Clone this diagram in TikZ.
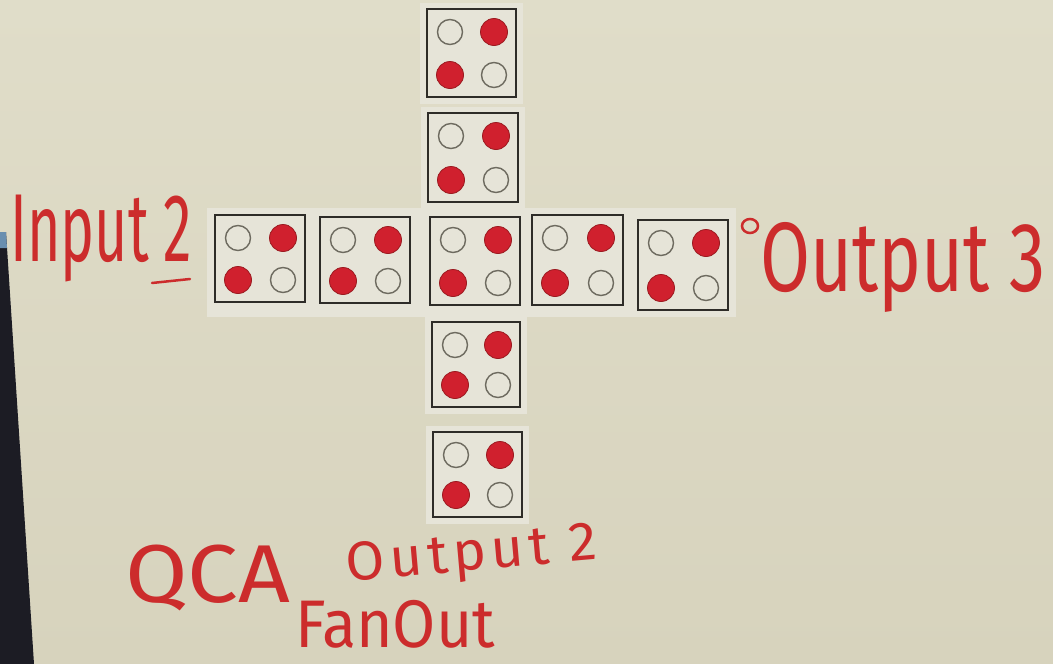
\documentclass[tikz,border=0pt]{standalone}
\usepackage{fontspec}
\setmainfont{Fira Sans}
\newfontfamily\spacedhand[LetterSpace=9]{Fira Sans}
\begin{document}
\begin{tikzpicture}[x=1pt,y=-1pt,
  board/.style={top color=boardtop,bottom color=boardbot},
  paper/.style={fill=paperc},
  cellbox/.style={draw=boxc,line width=2pt,inner sep=0pt,fill=paperc},
  emptydot/.style={draw=dotgray,line width=1.4pt},
  reddot/.style={fill=dotred,draw=dotdark,line width=0.8pt},
  hand/.style={text=ink,inner sep=0pt,font=\mdseries},
  inkline/.style={draw=ink,line width=2.5pt,line cap=round}]
\definecolor{boardtop}{HTML}{E0DDC9}
\definecolor{boardbot}{HTML}{D7D3BD}
\definecolor{paperc}{HTML}{E6E4D8}
\definecolor{boxc}{HTML}{2E2C28}
\definecolor{dotgray}{HTML}{6E6B60}
\definecolor{dotred}{HTML}{D0202E}
\definecolor{dotdark}{HTML}{9A1A20}
\definecolor{ink}{HTML}{CC2C2C}
\definecolor{monitor}{HTML}{1C1C24}
\definecolor{monblue}{HTML}{6A8FB0}
% background
\useasboundingbox (0,0) rectangle (1053,664);
\path[board] (0,0) rectangle (1053,664);
% monitor at the left edge
\fill[monitor] (0,232) -- (6,232) -- (34,664) -- (0,664) -- cycle;
\fill[monblue] (0,232) -- (6,232) -- (7,248) -- (0,248) -- cycle;
% paper behind the cells
\fill[paper] (207,208) rectangle (736,317);
% QCA cells
\foreach \n/\a/\b/\c/\d in {
  tA/427/9/516/97, tB/428/113/518/202,
  lA/215/215/305/302, lB/320/217/410/303, cC/430/217/520/305,
  rA/532/215/623/305, rB/638/220/728/310,
  bA/432/322/520/407, bB/433/432/522/517} {
  \pgfmathsetmacro\cellw{\c-\a}
  \pgfmathsetmacro\cellh{\d-\b}
  \fill[paper] (\a-7,\b-6) rectangle (\c+7,\d+7);
  \node[cellbox,minimum width=\cellw pt,minimum height=\cellh pt] (\n) at ({(\a+\c)/2},{(\b+\d)/2}) {};
  \draw[emptydot] (\a+23,\b+23) circle[radius=12.5];
  \draw[emptydot] (\c-22,\d-22) circle[radius=12.5];
  \filldraw[reddot] (\c-22,\b+23) circle[radius=13.5];
  \filldraw[reddot] (\a+23,\d-22) circle[radius=13.5];
}
% handwritten labels
\node[hand,anchor=north west] (in2) at (10,195) {\resizebox*{182pt}{87pt}{Input 2}};
\draw[inkline] (152,283) -- (190,279);
\draw[ink,line width=2.5pt] (750,226) ellipse[x radius=8,y radius=7];
\node[hand,anchor=north west] (out3) at (760,222) {\resizebox*{285pt}{90pt}{Output 3}};
\node[hand,anchor=north west] (qca) at (125,545) {\resizebox*{165pt}{66pt}{QCA}};
\node[hand,rotate=5] (out2) at (472,557) {\resizebox*{252pt}{50pt}{\spacedhand Output 2}};
\node[hand,anchor=north west] (fan) at (295,600) {\resizebox*{200pt}{48pt}{FanOut}};
\end{tikzpicture}
\end{document}
